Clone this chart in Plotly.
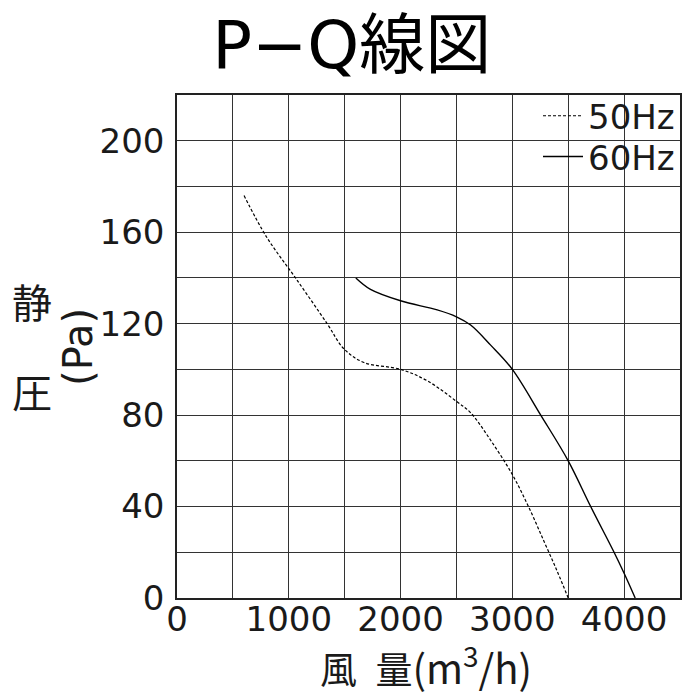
import plotly.graph_objects as go

# Data
q50 = [600, 800, 1060, 1343, 1493, 1672, 2000, 2239, 2500, 2627, 2806, 3000, 3149, 3284, 3403, 3500]
p50 = [176, 158, 140, 120, 109, 103, 100, 95, 86, 81, 69, 54, 39.5, 24.7, 11.5, 0]

q60 = [1600, 1731, 2000, 2328, 2500, 2627, 2806, 3000, 3254, 3500, 3701, 3910, 4000, 4099]
p60 = [140, 135, 130, 126, 123, 119.4, 110.6, 100, 80, 60, 40, 20, 10.8, 0]

x_grid = [0, 500, 1000, 1500, 2000, 2500, 3000, 3500, 4000, 4500]
x_labels = ["0", "", "1000", "", "2000", "", "3000", "", "4000", ""]
y_grid = [0, 20, 40, 60, 80, 100, 120, 140, 160, 180, 200, 220]
y_labels = ["0", "", "40", "", "80", "", "120", "", "160", "", "200", ""]

LAT = "DejaVu Sans, Noto Sans CJK JP, sans-serif"
CJK = "Noto Sans CJK JP, DejaVu Sans, sans-serif"
INK = "#1a1a1a"

fig = go.Figure()
fig.add_trace(go.Scatter(x=q50, y=p50, mode="lines", name="50Hz", legend="legend",
                         line=dict(color="black", width=1.2, dash="3px,2px", shape="spline")))
fig.add_trace(go.Scatter(x=q60, y=p60, mode="lines", name="60Hz", legend="legend2",
                         line=dict(color="black", width=1.4, shape="spline")))

leg_common = dict(x=1, xanchor="right", yanchor="middle", bgcolor="rgba(0,0,0,0)",
                  font=dict(size=34, family=LAT, color=INK), itemwidth=40, borderwidth=0)

fig.update_layout(
    width=700, height=700,
    margin=dict(l=169, r=28, t=87, b=110),
    paper_bgcolor="white", plot_bgcolor="white",
    font=dict(family=LAT, color=INK),
    showlegend=True,
    legend=dict(y=0.958, **leg_common),
    legend2=dict(y=0.877, **leg_common),
    title=dict(text="P−Q線図", xref="container", x=0.491, xanchor="center",
               yref="container", y=0.947, yanchor="middle",
               font=dict(size=66, family=LAT, color="black")),
)
# white backdrop behind the legend (above grid, below curves)
fig.add_shape(type="rect", xref="paper", yref="paper", x0=0.696, x1=0.997, y0=0.851, y1=0.997,
              fillcolor="white", line=dict(width=0), layer="between")

fig.update_xaxes(range=[0, 4500], tickvals=x_grid, ticktext=x_labels,
                 showgrid=True, gridcolor="#333333", gridwidth=1,
                 showline=True, linecolor="#222222", linewidth=1.5, mirror=True,
                 zeroline=False, ticks="", tickfont=dict(size=34), ticklabelstandoff=-10)
fig.update_yaxes(range=[0, 220], tickvals=y_grid, ticktext=y_labels,
                 showgrid=True, gridcolor="#333333", gridwidth=1,
                 showline=True, linecolor="#222222", linewidth=1.5, mirror=True,
                 zeroline=False, ticks="", tickfont=dict(size=34), ticklabelstandoff=4)

fig.add_annotation(text="静", xref="paper", yref="paper", x=-0.288, y=0.590,
                   xanchor="center", yanchor="middle",
                   showarrow=False, font=dict(size=40, family=CJK, color=INK))
fig.add_annotation(text="圧", xref="paper", yref="paper", x=-0.288, y=0.4115,
                   xanchor="center", yanchor="middle",
                   showarrow=False, font=dict(size=40, family=CJK, color=INK))
fig.add_annotation(text="(Pa)", xref="paper", yref="paper", x=-0.197, y=0.499, textangle=-90,
                   xanchor="center", yanchor="middle",
                   showarrow=False, font=dict(size=40, family=LAT, color=INK))
fig.add_annotation(text="風\u2002量<span style='font-size:40px'>(m<sup>3</sup>/h)</span>",
                   xref="paper", yref="paper", x=0.495, y=-0.134,
                   xanchor="center", yanchor="middle",
                   showarrow=False, font=dict(size=37, family=CJK, color=INK))

fig.write_html("out.html")
